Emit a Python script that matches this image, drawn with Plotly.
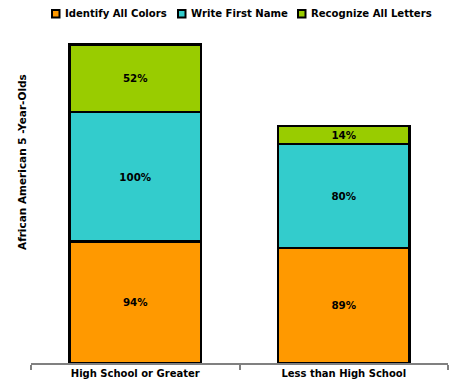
import plotly.graph_objects as go

categories = ["High School or Greater", "Less than High School"]
series_names = ["Identify All Colors", "Write First Name", "Recognize All Letters"]
identify_colors = [94, 89]
write_name = [100, 80]
recognize_letters = [52, 14]
colors = ["#FF9900", "#33CCCC", "#99CC00"]

FONT = "DejaVu Sans, Verdana, sans-serif"
W, H = 454, 390
ML, MR, MT, MB = 31, 6, 38, 27
PW, PH = W - ML - MR, H - MT - MB

def px_x(x):
    return (x - ML) / PW

def px_y(y):
    return (H - MB - y) / PH

fig = go.Figure()
for name, vals, col in zip(series_names, [identify_colors, write_name, recognize_letters], colors):
    fig.add_trace(go.Bar(
        x=categories, y=vals, name=name, showlegend=False,
        marker=dict(color=col, line=dict(color="black", width=2.5)),
        texttemplate="<b>%{y}%</b>", textposition="inside",
        insidetextanchor="middle", constraintext="none",
        textfont=dict(family=FONT, size=10.3, color="black"),
        hoverinfo="skip",
    ))

# custom compact legend (marker square + bold label)
legend_marker_x = [52, 178, 298]
shapes = []
annotations = []
for name, col, mx in zip(series_names, colors, legend_marker_x):
    shapes.append(dict(type="rect", xref="paper", yref="paper",
                       x0=px_x(mx), x1=px_x(mx + 7.5), y0=px_y(17.5), y1=px_y(10),
                       fillcolor=col, line=dict(color="black", width=2)))
    annotations.append(dict(text="<b>" + name + "</b>", xref="paper", yref="paper",
                            x=px_x(mx + 10.5), y=px_y(14), xanchor="left", yanchor="middle",
                            showarrow=False,
                            font=dict(family=FONT, size=10.1, color="black")))

annotations.append(dict(text="<b>African American 5 -Year-Olds</b>", textangle=-90,
                        xref="paper", yref="paper", x=px_x(30), y=px_y(162), xanchor="right",
                        yanchor="middle", showarrow=False,
                        font=dict(family=FONT, size=10.5, color="black")))

fig.update_layout(
    barmode="stack",
    bargap=0.37,
    width=W, height=H,
    margin=dict(l=ML, r=MR, t=MT, b=MB),
    paper_bgcolor="white", plot_bgcolor="white",
    font=dict(family=FONT, size=10, color="black"),
    showlegend=False,
    xaxis=dict(showline=True, linecolor="#808080", linewidth=2,
               ticks="outside", tickcolor="#808080", ticklen=5, tickwidth=1.5,
               tickson="boundaries",
               tickfont=dict(family=FONT, size=10, color="black"),
               tickvals=categories, ticktext=["<b>" + c + "</b>" for c in categories]),
    yaxis=dict(range=[0, 251], showticklabels=False, showgrid=False, zeroline=False,
               showline=False, ticks=""),
    shapes=shapes,
    annotations=annotations,
)

fig.write_html("out.html")
